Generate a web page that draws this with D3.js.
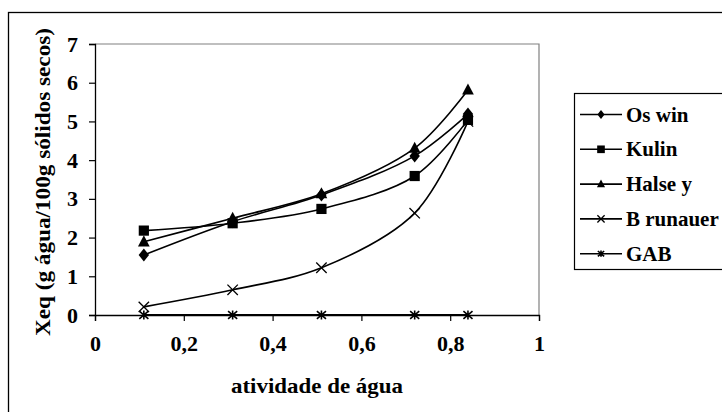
<!DOCTYPE html>
<html><head><meta charset="utf-8">
<script src="https://cdn.jsdelivr.net/npm/d3@7"></script>
<style>body{margin:0;background:#fff}svg{display:block}</style>
</head><body>
<svg id="c" width="722" height="412"></svg>
<script>
const aw = [0.11, 0.31, 0.51, 0.72, 0.84];
const seriesNames = ["Oswin", "Kulin", "Halsey", "Brunauer", "GAB"];
const legendLabels = ["Os win", "Kulin", "Halse y", "B runauer", "GAB"];
const oswin = [1.55, 2.41, 3.10, 4.11, 5.19];
const kulin = [2.18, 2.37, 2.74, 3.59, 5.04];
const halsey = [1.89, 2.50, 3.13, 4.31, 5.81];
const brunauer = [0.21, 0.65, 1.22, 2.63, 5.00];
const gab = [0, 0, 0, 0, 0];
const xTicks = [0, 0.2, 0.4, 0.6, 0.8, 1];
const xTickLabels = ["0", "0,2", "0,4", "0,6", "0,8", "1"];
const yTicks = [0, 1, 2, 3, 4, 5, 6, 7];
const xTitle = "atividade de água";
const yTitle = "Xeq (g água/100g sólidos secos)";
const markers = ["diamond", "square", "triangle", "cross", "asterisk"];

const values = [oswin, kulin, halsey, brunauer, gab];
const svg = d3.select("#c");
const FONT = '"Liberation Serif", "Times New Roman", Tinos, serif';
function styleText(sel, size) {
  return sel.style("font-family", FONT).style("font-weight", "bold")
    .style("font-size", size + "px").attr("fill", "#000");
}
const L = 95, R = 539, T = 44, B = 315;
const x = d3.scaleLinear().domain([0, 1]).range([L, R]);
const y = d3.scaleLinear().domain([0, 7]).range([B, T]);

svg.append("rect").attr("x", 8.5).attr("y", 12.5).attr("width", 900).attr("height", 600)
  .attr("fill", "none").attr("stroke", "#000").attr("stroke-width", 1.3);

svg.append("path").attr("d", `M${L},${T}H${R}V${B}`).attr("fill", "none")
  .attr("stroke", "#808080").attr("stroke-width", 1.2);

const xAxis = d3.axisBottom(x).tickValues(xTicks).tickFormat((d, i) => xTickLabels[i]).tickSize(6).tickPadding(14);
const yAxis = d3.axisLeft(y).tickValues(yTicks).tickFormat(d3.format("d")).tickSize(6).tickPadding(11);
const gx = svg.append("g").attr("transform", `translate(0,${B})`).call(xAxis);
const gy = svg.append("g").attr("transform", `translate(${L},0)`).call(yAxis);
[gx, gy].forEach(g => {
  g.attr("font-family", null).attr("font-size", null);
  g.select(".domain").attr("stroke", "#000").attr("stroke-width", 1.3);
  g.selectAll(".tick line").attr("stroke", "#000").attr("stroke-width", 1.2);
  styleText(g.selectAll("text"), 22);
});

styleText(svg.append("text"), 22).attr("x", 317).attr("y", 393).attr("text-anchor", "middle")
  .attr("textLength", 172).attr("lengthAdjust", "spacingAndGlyphs").text(xTitle);
styleText(svg.append("text"), 22).attr("transform", `translate(50,182) rotate(-90)`)
  .attr("text-anchor", "middle").attr("textLength", 308).attr("lengthAdjust", "spacingAndGlyphs").text(yTitle);

function drawMarker(g, type, cx, cy, s) {
  if (type === "diamond") {
    g.append("path").attr("d", `M${cx},${cy - s}L${cx + s * 0.8},${cy}L${cx},${cy + s}L${cx - s * 0.8},${cy}Z`).attr("fill", "#000");
  } else if (type === "square") {
    g.append("rect").attr("x", cx - s * 0.85).attr("y", cy - s * 0.85).attr("width", s * 1.7).attr("height", s * 1.7).attr("fill", "#000");
  } else if (type === "triangle") {
    g.append("path").attr("d", `M${cx},${cy - s}L${cx + s * 0.9},${cy + s * 0.7}L${cx - s * 0.9},${cy + s * 0.7}Z`).attr("fill", "#000");
  } else if (type === "cross") {
    g.append("path").attr("d", `M${cx - s * 0.8},${cy - s * 0.8}L${cx + s * 0.8},${cy + s * 0.8}M${cx + s * 0.8},${cy - s * 0.8}L${cx - s * 0.8},${cy + s * 0.8}`)
      .attr("stroke", "#000").attr("stroke-width", 1.3);
  } else if (type === "asterisk") {
    g.append("path").attr("d", `M${cx - s * 0.7},${cy - s * 0.6}L${cx + s * 0.7},${cy + s * 0.6}M${cx + s * 0.7},${cy - s * 0.6}L${cx - s * 0.7},${cy + s * 0.6}M${cx},${cy - s * 0.7}V${cy + s * 0.7}`)
      .attr("stroke", "#000").attr("stroke-width", 1.6);
  }
}

const line = d3.line().x(d => x(d[0])).y(d => y(d[1])).curve(d3.curveCatmullRom.alpha(0.5));
const plot = svg.append("g");
values.forEach((vals, si) => {
  const pts = aw.map((a, i) => [a, vals[i]]);
  plot.append("path").datum(pts).attr("d", line).attr("fill", "none")
    .attr("stroke", "#000").attr("stroke-width", si === 4 ? 2 : 1.6);
});
values.forEach((vals, si) => {
  aw.forEach((a, i) => drawMarker(plot, markers[si], x(a), y(vals[i]), si === 1 ? 6 : 6.5));
});

const lg = svg.append("g");
lg.append("rect").attr("x", 574.5).attr("y", 93.5).attr("width", 200).attr("height", 176)
  .attr("fill", "#fff").attr("stroke", "#000").attr("stroke-width", 1.2);
seriesNames.forEach((n, i) => {
  const cy = 114.5 + i * 34.8;
  lg.append("line").attr("x1", 580).attr("x2", 622).attr("y1", cy).attr("y2", cy)
    .attr("stroke", "#000").attr("stroke-width", 1.6);
  drawMarker(lg, markers[i], 601, cy, 4.5);
  styleText(lg.append("text"), 21).attr("x", 626).attr("y", cy + 7).text(legendLabels[i]);
});
</script>
</body></html>
